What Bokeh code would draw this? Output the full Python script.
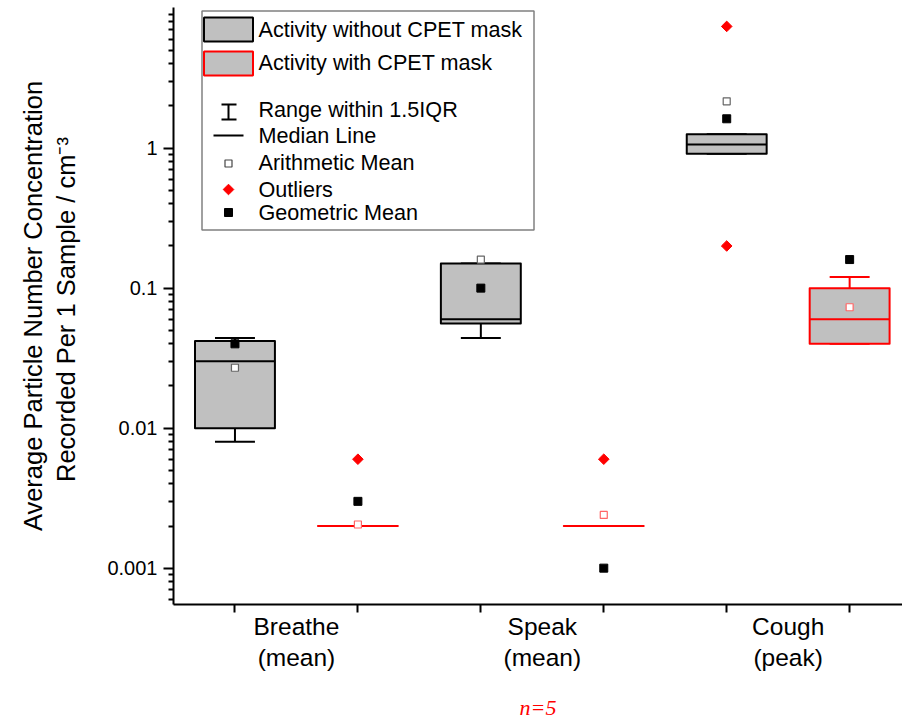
import numpy as np
from bokeh.plotting import figure
from bokeh.models import Range1d, LinearScale, FixedTicker
from bokeh.core.properties import value
from bokeh.embed import file_html
from bokeh.resources import INLINE

# ---------------- data ----------------
categories = ["Breathe\n(mean)", "Speak\n(mean)", "Cough\n(peak)"]
series_names = ["Activity without CPET mask", "Activity with CPET mask"]

# Activity without CPET mask
nm_q1 = [0.010, 0.056, 0.913]
nm_median = [0.030, 0.060, 1.06]
nm_q3 = [0.042, 0.150, 1.255]
nm_low = [0.008, 0.044, 0.913]
nm_high = [0.044, 0.150, 1.255]
nm_mean = [0.027, 0.160, 2.16]
nm_geomean = [0.040, 0.100, 1.62]
nm_outlier_cat = [2, 2]
nm_outlier_val = [7.4, 0.20]

# Activity with CPET mask
m_q1 = [0.002, 0.002, 0.040]
m_median = [0.002, 0.002, 0.060]
m_q3 = [0.002, 0.002, 0.100]
m_low = [0.002, 0.002, 0.040]
m_high = [0.002, 0.002, 0.120]
m_mean = [0.00205, 0.0024, 0.073]
m_geomean = [0.003, 0.001, 0.160]
m_outlier_cat = [0, 1]
m_outlier_val = [0.006, 0.006]

y_major = [0.001, 0.01, 0.1, 1]
y_major_labels = ["0.001", "0.01", "0.1", "1"]

FONT = "Liberation Sans"
BOX_FILL = "#c0c0c0"
BOX_W = 0.65

W, H = 902, 724
LEFT, RIGHT, TOP, BOTTOM = 173, 0, 7, 120
FW, FH = W - LEFT - RIGHT, H - TOP - BOTTOM

p = figure(width=W, height=H, y_axis_type="log",
           x_range=Range1d(0.5, 6.43), y_range=Range1d(0.00055, 10.1),
           output_backend="svg", toolbar_location=None,
           min_border_left=LEFT, min_border_right=RIGHT,
           min_border_top=TOP, min_border_bottom=BOTTOM)
p.xgrid.visible = False
p.ygrid.visible = False
p.outline_line_color = None
p.background_fill_color = "white"
p.border_fill_color = "white"

# ---------- axes ----------
xa = p.xaxis[0]
xa.ticker = FixedTicker(ticks=[1.5, 3.5, 5.5], minor_ticks=[1, 2, 3, 4, 5, 6])
xa.major_label_overrides = {1.5: categories[0], 3.5: categories[1], 5.5: categories[2]}
xa.major_tick_out = 0
xa.major_tick_in = 0
xa.minor_tick_out = 8
xa.minor_tick_in = 0
xa.minor_tick_line_width = 2
xa.minor_tick_line_color = "black"
xa.axis_line_width = 2
xa.axis_line_color = "black"
xa.major_label_text_font = FONT
xa.major_label_text_font_size = "24.5px"
xa.major_label_text_color = "black"
xa.major_label_text_line_height = 1.17
xa.major_label_standoff = 0
xa.axis_label = "n=5"
xa.axis_label_text_font = "Liberation Serif"
xa.axis_label_text_font_style = "italic"
xa.axis_label_text_font_size = "22px"
xa.axis_label_text_color = "red"
xa.axis_label_standoff = 21

ya = p.yaxis[0]
minor = [k * 10.0 ** e for e in range(-4, 1) for k in range(2, 10)]
ya.ticker = FixedTicker(ticks=y_major, minor_ticks=minor)
ya.major_label_overrides = dict(zip(y_major, y_major_labels))
ya.major_tick_out = 10
ya.major_tick_in = 0
ya.minor_tick_out = 5
ya.minor_tick_in = 0
ya.major_tick_line_width = 2
ya.minor_tick_line_width = 2
ya.axis_line_width = 2
ya.axis_line_color = "black"
ya.major_label_text_font = FONT
ya.major_label_text_font_size = "20px"
ya.major_label_text_color = "black"
ya.major_label_standoff = 6
ya.axis_label = "Average Particle Number Concentration\nRecorded Per 1 Sample  / cm\u207b\u00b3"
ya.axis_label_text_font = FONT
ya.axis_label_text_font_style = "normal"
ya.axis_label_text_font_size = "25.5px"
ya.axis_label_text_color = "black"
ya.axis_label_text_line_height = 1.2
ya.axis_label_standoff = 24

# ---------- boxes ----------
def draw_series(s, q1, med, q3, lo, hi, mean, geo, oc, ov, color, mean_color):
    pos = np.array([1 + 2 * i + s for i in range(len(q1))], dtype=float)
    half = BOX_W / 2
    # whiskers
    p.segment(x0=pos, x1=pos, y0=q3, y1=hi, line_color=color, line_width=2)
    p.segment(x0=pos, x1=pos, y0=q1, y1=lo, line_color=color, line_width=2)
    p.segment(x0=pos - half / 2, x1=pos + half / 2, y0=hi, y1=hi, line_color=color, line_width=2)
    p.segment(x0=pos - half / 2, x1=pos + half / 2, y0=lo, y1=lo, line_color=color, line_width=2)
    # boxes
    p.quad(left=pos - half, right=pos + half, bottom=q1, top=q3,
           fill_color=BOX_FILL, line_color=color, line_width=2, line_join="round")
    p.segment(x0=pos - half, x1=pos + half, y0=med, y1=med, line_color=color, line_width=2)
    # markers
    p.scatter(pos, mean, marker="square", size=7, fill_color="white",
              line_color=mean_color, line_width=1.2)
    p.scatter(pos, geo, marker="square", size=8, fill_color="black", line_color="black")
    ox = [1 + 2 * c + s for c in oc]
    p.scatter(ox, ov, marker="square", angle=np.pi / 4, size=7.5,
              fill_color="red", line_color="red")

draw_series(0, nm_q1, nm_median, nm_q3, nm_low, nm_high, nm_mean, nm_geomean,
            nm_outlier_cat, nm_outlier_val, "black", "#666666")
draw_series(1, m_q1, m_median, m_q3, m_low, m_high, m_mean, m_geomean,
            m_outlier_cat, m_outlier_val, "red", "#ff6666")

# ---------- legend (drawn in pixel space of the frame) ----------
p.extra_x_ranges = {"px": Range1d(0, FW)}
p.extra_y_ranges = {"py": Range1d(FH, 0)}
p.extra_x_scales = {"px": LinearScale()}
p.extra_y_scales = {"py": LinearScale()}
R = dict(x_range_name="px", y_range_name="py")

def cx(x):
    return x - LEFT

def cy(y):
    return y - TOP

p.quad(left=cx(201.5), right=cx(533.5), top=cy(10.5), bottom=cy(229.5),
       fill_color="white", line_color="#808080", line_width=1.5, **R)
p.quad(left=cx(203.5), right=cx(252.5), top=cy(17), bottom=cy(41),
       fill_color=BOX_FILL, line_color="black", line_width=2, **R)
p.quad(left=cx(203.5), right=cx(252.5), top=cy(51), bottom=cy(75),
       fill_color=BOX_FILL, line_color="red", line_width=2, **R)
# I-beam
p.segment(x0=[cx(228), cx(221), cx(221)], x1=[cx(228), cx(236), cx(236)],
          y0=[cy(104), cy(104), cy(119)], y1=[cy(119), cy(104), cy(119)],
          line_color="black", line_width=2, **R)
# median line
p.segment(x0=[cx(213)], x1=[cx(243)], y0=[cy(135)], y1=[cy(135)],
          line_color="black", line_width=2, **R)
p.scatter([cx(228)], [cy(163)], marker="square", size=7, fill_color="white",
          line_color="#444444", line_width=1.2, **R)
p.scatter([cx(228)], [cy(189)], marker="square", angle=np.pi / 4, size=7.5,
          fill_color="red", line_color="red", **R)
p.scatter([cx(228)], [cy(212)], marker="square", size=8, fill_color="black",
          line_color="black", **R)
leg_text = [series_names[0], series_names[1], "Range within 1.5IQR",
            "Median Line", "Arithmetic Mean", "Outliers", "Geometric Mean"]
leg_y = [29, 62, 109, 135, 162, 189, 212]
p.text(x=[cx(258)] * len(leg_text), y=[cy(v) for v in leg_y], text=leg_text,
       text_font=value(FONT), text_font_size="21.6px", text_baseline="middle",
       text_color="black", **R)

open("out.html", "w").write(file_html(p, INLINE))
